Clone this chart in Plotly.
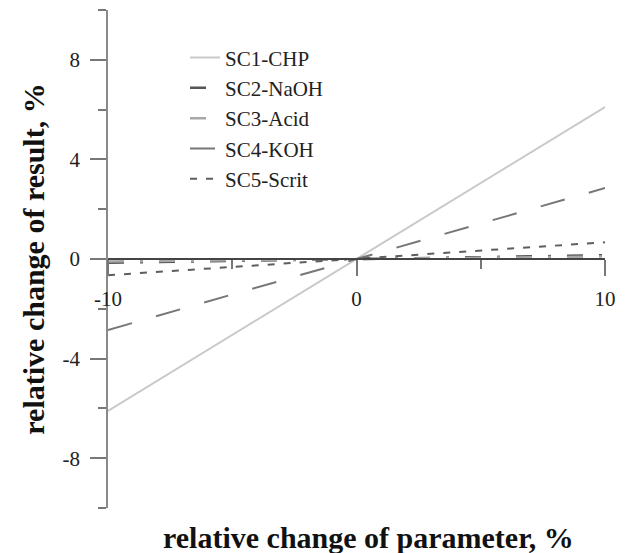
import plotly.graph_objects as go

x_vals = [-10, 0, 10]
series_names = ["SC1-CHP", "SC2-NaOH", "SC3-Acid", "SC4-KOH", "SC5-Scrit"]
sc1 = [-6.1, 0, 6.1]
sc2 = [-0.15, 0, 0.15]
sc3 = [-0.1, 0, 0.1]
sc4 = [-2.85, 0, 2.85]
sc5 = [-0.65, 0, 0.67]
series_values = [sc1, sc2, sc3, sc4, sc5]

x_tickvals = [-10, 0, 10]
x_ticktext = ["-10", "0", "10"]
y_tickvals = [-8, -4, 0, 4, 8]
y_ticktext = ["-8", "-4", "0", "4", "8"]

colors = ["#c9c9c9", "#555555", "#a8a8a8", "#777777", "#5e5e5e"]
dashes = ["solid", "16px,16px,3px,16px", "16px,16px,3px,16px", "25px,25px", "7px,9px"]
widths = [2, 2.5, 2.5, 2, 2]

FONT = "Liberation Serif, Times New Roman, serif"

fig = go.Figure()
for i, (name, vals) in enumerate(zip(series_names, series_values)):
    fig.add_trace(go.Scatter(
        x=x_vals, y=vals, mode="lines", name=name,
        line=dict(color=colors[i], dash=dashes[i], width=widths[i]),
    ))

fig.update_layout(
    width=625, height=553,
    margin=dict(l=108, r=20, t=10, b=45),
    paper_bgcolor="white", plot_bgcolor="white",
    font=dict(family=FONT, size=21, color="#222222"),
    showlegend=True,
    legend=dict(
        x=0.155, y=0.945, xanchor="left", yanchor="top",
        bgcolor="rgba(0,0,0,0)", borderwidth=0,
        font=dict(family=FONT, size=21, color="#222222"),
    ),
    xaxis=dict(
        range=[-10, 10], anchor="free", position=0.5,
        showline=True, linecolor="#444444", linewidth=1.5,
        showgrid=False, zeroline=False,
        tickmode="array", tickvals=x_tickvals, ticktext=x_ticktext,
        ticks="outside", ticklen=16, tickwidth=1.5, tickcolor="#777777",
        ticklabelstandoff=5,
        minor=dict(dtick=5, tick0=0, ticks="outside", ticklen=9, tickwidth=1.5, tickcolor="#777777", showgrid=False),
        tickfont=dict(family=FONT, size=21, color="#222222"),
    ),
    yaxis=dict(
        range=[-10, 10],
        showline=True, linecolor="#8a8a8a", linewidth=1.5,
        showgrid=False, zeroline=False,
        tickmode="array", tickvals=y_tickvals, ticktext=y_ticktext,
        ticks="outside", ticklen=16, tickwidth=1.5, tickcolor="#777777",
        ticklabelstandoff=6,
        minor=dict(dtick=2, tick0=0, ticks="outside", ticklen=8, tickwidth=1.5, tickcolor="#777777", showgrid=False),
        tickfont=dict(family=FONT, size=21, color="#222222"),
        title=dict(text="<b>relative change of result, %</b>", standoff=9,
                   font=dict(family=FONT, size=30, color="#111111")),
    ),
    annotations=[dict(
        text="<b>relative change of parameter, %</b>", xref="paper", yref="paper",
        x=0.525, y=-0.06, xanchor="center", yanchor="middle", showarrow=False,
        font=dict(family=FONT, size=30, color="#111111"),
    )],
)

fig.write_html("out.html")
